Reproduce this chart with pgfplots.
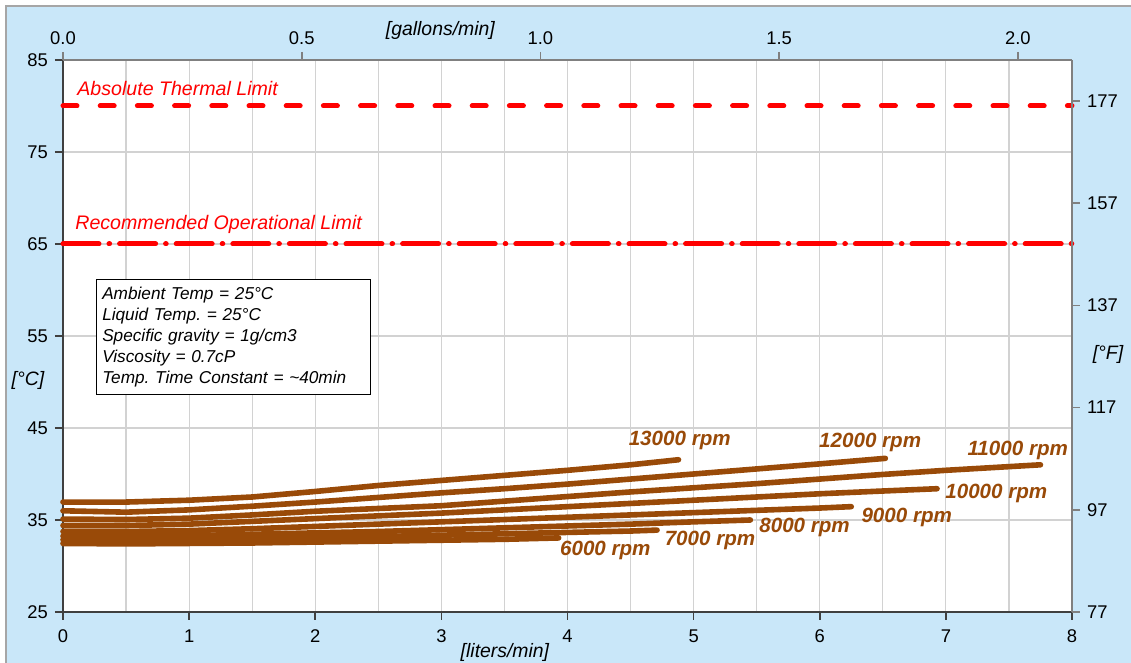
\documentclass[border=0pt]{standalone}
\usepackage{pgfplots}
\pgfplotsset{compat=1.18}
\usepackage{fontspec}
\setmainfont{Liberation Sans}
\frenchspacing
\definecolor{bgblue}{RGB}{201,231,249}
\definecolor{curve}{RGB}{153,74,8}
\definecolor{gridc}{RGB}{210,210,210}
\definecolor{axdark}{RGB}{64,64,64}
\definecolor{axgray}{RGB}{128,128,128}
\definecolor{limred}{RGB}{255,0,0}
\pgfplotsset{
  common/.style={
    at={(31.5pt,25.5pt)}, anchor=south west, scale only axis,
    width=504.5pt, height=276pt,
    tick align=outside, major tick length=4pt, minor tick length=0pt,
    ticklabel style={font=\fontsize{9.2}{10}\selectfont},
    /pgf/number format/assume math mode=true,
    label style={font=\fontsize{9.7}{11}\selectfont\itshape},
  }
}
\begin{document}
\begin{tikzpicture}[x=1pt,y=1pt]
\useasboundingbox (0,0) rectangle (565.5,331.5);
\fill[white] (0,0) rectangle (565.5,331.5);
\filldraw[fill=bgblue, draw=axgray!70, line width=0.7pt] (3,-5) rectangle (570,328.5);

% main axis
\begin{axis}[common,
  xmin=0, xmax=8, ymin=25, ymax=85,
  axis x line*=bottom, axis y line*=left,
  axis line style={axdark, line width=1pt},
  tick style={axdark, line width=0.8pt},
  xtick={0,1,2,3,4,5,6,7,8}, ytick={25,35,45,55,65,75,85},
  minor xtick={0.5,1.5,2.5,3.5,4.5,5.5,6.5,7.5},
  xticklabel style={yshift=-1.5pt},
  xmajorgrids, xminorgrids, ymajorgrids,
  major grid style={gridc, line width=0.6pt},
  minor grid style={gridc, line width=0.6pt},
  axis background/.style={fill=white},
  clip=false,
  xlabel={[liters/min]},
  xlabel style={at={(axis description cs:0.438,-0.0725)}, anchor=center},
  ylabel={[°C]},
  ylabel style={rotate=-90, at={(axis description cs:-0.0347,0.42)}, anchor=center},
]
% limits
\addplot[limred, line width=2.5pt, line cap=round, dash pattern=on 7pt off 11.6pt] coordinates {(0,80) (8,80)};
\addplot[limred, line width=2.5pt, line cap=round, dash pattern=on 18pt off 5pt on 0.3pt off 5pt] coordinates {(0,65) (8,65)};
% curves
\addplot[curve, line width=2.8pt, line cap=round, line join=round] coordinates {
(0,32.45)(0.5,32.4)(1,32.45)(1.5,32.5)(2,32.6)(2.5,32.7)(3,32.8)(3.5,32.9)(3.93,33.05)};
\addplot[curve, line width=2.8pt, line cap=round, line join=round] coordinates {
(0,32.85)(0.5,32.8)(1,32.85)(1.5,32.95)(2,33.05)(2.5,33.2)(3,33.35)(3.5,33.5)(4,33.65)(4.5,33.8)(4.71,33.9)};
\addplot[curve, line width=2.8pt, line cap=round, line join=round] coordinates {
(0,33.25)(0.5,33.2)(1,33.3)(1.5,33.45)(2,33.6)(2.5,33.75)(3,33.95)(3.5,34.15)(4,34.35)(4.5,34.55)(5,34.8)(5.45,35.0)};
\addplot[curve, line width=2.8pt, line cap=round, line join=round] coordinates {
(0,33.75)(0.5,33.75)(1,33.85)(1.5,34.05)(2,34.3)(2.5,34.55)(3,34.8)(3.5,35.05)(4,35.3)(4.5,35.55)(5,35.8)(5.5,36.05)(6,36.3)(6.25,36.45)};
\addplot[curve, line width=2.8pt, line cap=round, line join=round] coordinates {
(0,34.4)(0.5,34.4)(1,34.55)(1.5,34.85)(2,35.15)(2.5,35.45)(3,35.75)(3.5,36.1)(4,36.45)(4.5,36.8)(5,37.15)(5.5,37.5)(6,37.85)(6.5,38.15)(6.93,38.4)};
\addplot[curve, line width=2.8pt, line cap=round, line join=round] coordinates {
(0,35.1)(0.5,35.05)(1,35.2)(1.5,35.55)(2,35.95)(2.5,36.25)(3,36.55)(3.5,37.05)(4,37.55)(4.5,38.05)(5,38.5)(5.5,38.95)(6,39.45)(6.5,39.95)(7,40.4)(7.5,40.8)(7.75,41.0)};
\addplot[curve, line width=2.8pt, line cap=round, line join=round] coordinates {
(0,36.0)(0.5,35.85)(1,36.1)(1.5,36.5)(2,36.95)(2.5,37.45)(3,37.95)(3.5,38.4)(4,38.9)(4.5,39.45)(5,40.0)(5.5,40.55)(6,41.1)(6.52,41.7)};
\addplot[curve, line width=2.8pt, line cap=round, line join=round] coordinates {
(0,36.95)(0.5,36.95)(1,37.15)(1.5,37.5)(2,38.1)(2.5,38.75)(3,39.3)(3.5,39.85)(4,40.4)(4.5,41.0)(4.88,41.55)};
% labels
\begin{scope}[every node/.style={text=curve, font=\fontsize{10.3}{12}\selectfont\bfseries\itshape, inner sep=0pt}]
\node at (axis cs:4.89,43.6) {13000 rpm};
\node at (axis cs:6.40,43.4) {12000 rpm};
\node at (axis cs:7.57,42.6) {11000 rpm};
\node at (axis cs:7.40,37.9) {10000 rpm};
\node at (axis cs:6.69,35.3) {9000 rpm};
\node at (axis cs:5.88,34.2) {8000 rpm};
\node at (axis cs:5.13,32.8) {7000 rpm};
\node at (axis cs:4.30,31.7) {6000 rpm};
\end{scope}
\node[anchor=west, text=limred, font=\fontsize{9.8}{11}\selectfont\itshape, inner sep=0pt] at (axis cs:0.111,81.85) {Absolute Thermal Limit};
\node[anchor=west, text=limred, font=\fontsize{9.8}{11}\selectfont\itshape, inner sep=0pt] at (axis cs:0.095,67.17) {Recommended Operational Limit};
\node[draw=black, line width=0.6pt, fill=white, anchor=north west, inner xsep=3pt, inner ysep=3.8pt,
  text width=131pt, align=left, font=\fontsize{8.6}{10.5}\selectfont\itshape] at (axis cs:0.259,61.2)
  {Ambient Temp = 25°C\\ Liquid Temp. = 25°C\\ Specific gravity = 1g/cm3\\ Viscosity = 0.7cP\\ Temp. Time Constant = \textasciitilde40min};
\end{axis}

% right axis (deg F)
\begin{axis}[common,
  xmin=0, xmax=8, ymin=77, ymax=185,
  axis y line*=right, axis x line=none,
  axis line style={axgray, line width=1pt},
  tick style={axgray, line width=0.8pt},
  ytick={77,97,117,137,157,177},
  ylabel={[°F]},
  ylabel style={rotate=-90, at={(axis description cs:1.0357,0.4656)}, anchor=center},
]
\addplot[draw=none] coordinates {(0,100)};
\end{axis}

% top axis (gallons/min)
\begin{axis}[common,
  xmin=0, xmax=2.11338, ymin=0, ymax=1,
  axis x line*=top, axis y line=none,
  axis line style={axgray, line width=1pt},
  tick style={axgray, line width=0.8pt},
  xtick={0,0.5,1,1.5,2},
  xticklabel style={/pgf/number format/.cd, fixed, fixed zerofill, precision=1},
  xlabel={[gallons/min]},
  xlabel style={at={(axis description cs:0.374,1.054)}, anchor=center},
]
\addplot[draw=none] coordinates {(0,0.5)};
\end{axis}
\end{tikzpicture}
\end{document}
